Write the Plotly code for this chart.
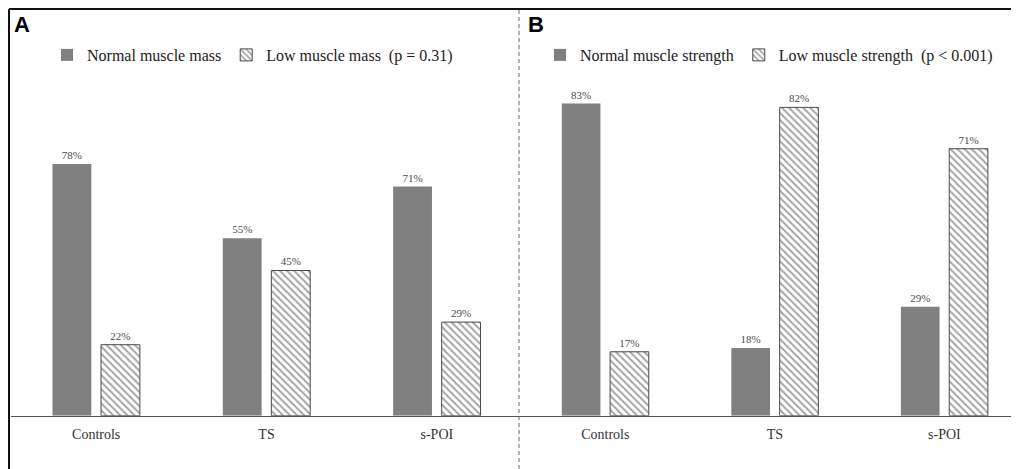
import plotly.graph_objects as go

# page has an 8px body margin, so the figure is laid out in reference pixels minus 8
OFF = 8
W, H = 1019 - OFF, 469 - OFF

categories = ["Controls", "TS", "s-POI"]
mass_normal = [78, 55, 71]
mass_low = [22, 45, 29]
strength_normal = [83, 18, 29]
strength_low = [17, 82, 71]

name_mass_normal = "Normal muscle mass"
name_mass_low = "Low muscle mass  (p = 0.31)"
name_str_normal = "Normal muscle strength"
name_str_low = "Low muscle strength  (p < 0.001)"

SERIF = "Liberation Serif, Times New Roman, serif"
SOLID = "#808080"
HATCH = "#4a4a4a"

def px(x):
    return (x - OFF) / W

def py(y):
    return 1 - (y - OFF) / H

fig = go.Figure()

def solid_bar(vals, name, xa, ya, leg):
    return go.Bar(
        x=categories, y=vals, name=name, xaxis=xa, yaxis=ya, legend=leg,
        marker=dict(color=SOLID, line=dict(width=0)),
        text=[f"{v}%" for v in vals], textposition="outside",
        textfont=dict(family=SERIF, size=11, color="#4d4d4d"),
        cliponaxis=False,
    )

def hatch_bar(vals, name, xa, ya, leg):
    return go.Bar(
        x=categories, y=vals, name=name, xaxis=xa, yaxis=ya, legend=leg,
        marker=dict(color="white", line=dict(width=1, color=HATCH),
                    pattern=dict(shape="\\", fgcolor=HATCH, bgcolor="white",
                                 size=5, solidity=0.4)),
        text=[f"{v}%" for v in vals], textposition="outside",
        textfont=dict(family=SERIF, size=11, color="#4d4d4d"),
        cliponaxis=False,
    )

fig.add_trace(solid_bar(mass_normal, name_mass_normal, "x", "y", "legend"))
fig.add_trace(hatch_bar(mass_low, name_mass_low, "x", "y", "legend"))
fig.add_trace(solid_bar(strength_normal, name_str_normal, "x2", "y2", "legend2"))
fig.add_trace(hatch_bar(strength_low, name_str_low, "x2", "y2", "legend2"))

y_bot = py(415.7)
y_top = py(9)
plot_h = 415.7 - 9

axis_common = dict(
    type="category", showgrid=False, zeroline=False,
    showline=True, linecolor="#555", linewidth=1,
    ticks="outside", ticklen=5, tickcolor="rgba(0,0,0,0)",
    tickfont=dict(family=SERIF, size=14, color="#333"),
)

legend_font = dict(family=SERIF, size=16, color="#222")

fig.update_layout(
    width=W, height=H,
    margin=dict(l=0, r=0, t=0, b=0),
    paper_bgcolor="white", plot_bgcolor="white",
    barmode="group", bargap=0.43, bargroupgap=0.2,
    xaxis=dict(domain=[px(11), px(522)], range=[-0.5, 2.5], anchor="y", **axis_common),
    xaxis2=dict(domain=[px(520.5), 1.0], range=[-0.5, 2.44], anchor="y2", **axis_common),
    yaxis=dict(domain=[y_bot, y_top], range=[0, plot_h / 3.227], visible=False, anchor="x"),
    yaxis2=dict(domain=[y_bot, y_top], range=[0, plot_h / 3.76], visible=False, anchor="x2"),
    legend=dict(orientation="h", x=px(47), y=py(55), xanchor="left", yanchor="middle",
                font=legend_font, bgcolor="rgba(0,0,0,0)"),
    legend2=dict(orientation="h", x=px(540), y=py(55), xanchor="left", yanchor="middle",
                 font=legend_font, bgcolor="rgba(0,0,0,0)"),
    showlegend=True,
    shapes=[
        dict(type="line", xref="paper", yref="paper", x0=px(9), x1=1.0, y0=py(9), y1=py(9),
             line=dict(color="#111", width=2)),
        dict(type="line", xref="paper", yref="paper", x0=px(9), x1=px(9), y0=0, y1=py(9),
             line=dict(color="#111", width=2)),
        dict(type="line", xref="paper", yref="paper", x0=px(519), x1=px(519), y0=0, y1=py(10),
             line=dict(color="#666", width=1, dash="4px,3px")),
    ],
    annotations=[
        dict(text="<b>A</b>", x=px(12), y=py(10), xref="paper", yref="paper",
             xanchor="left", yanchor="top", showarrow=False,
             font=dict(family="Liberation Sans, Arial, sans-serif", size=22, color="#000")),
        dict(text="<b>B</b>", x=px(526), y=py(10), xref="paper", yref="paper",
             xanchor="left", yanchor="top", showarrow=False,
             font=dict(family="Liberation Sans, Arial, sans-serif", size=22, color="#000")),
    ],
)

fig.write_html("out.html")
